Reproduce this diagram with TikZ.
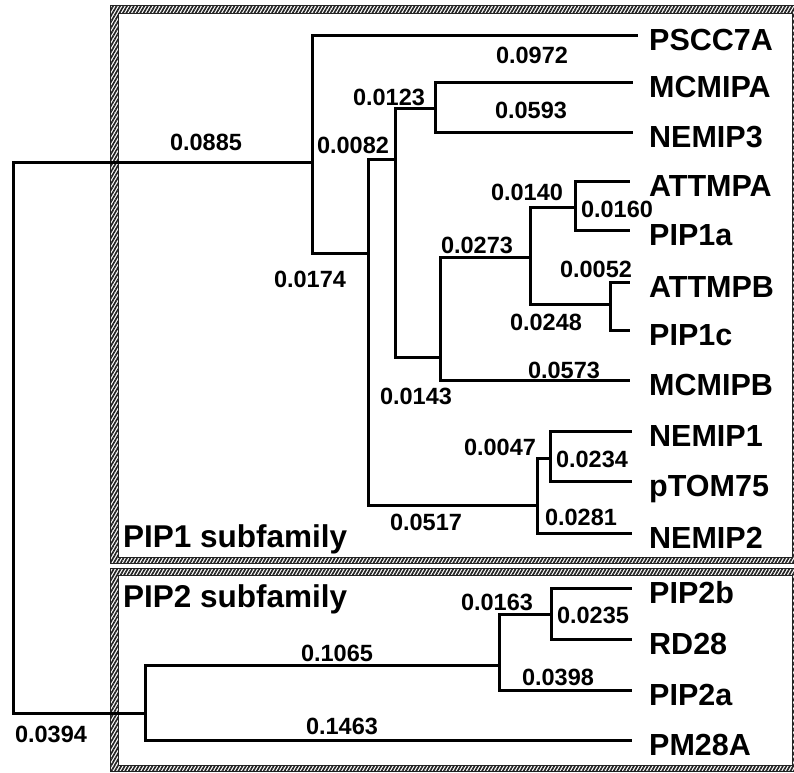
\documentclass[tikz,border=0pt]{standalone}
\usepackage{fontspec}
\setmainfont{Liberation Sans}
\usetikzlibrary{patterns.meta}
\definecolor{hatchgray}{RGB}{35,35,35}

\begin{document}
\begin{tikzpicture}[x=1pt, y=-1pt,
    branch/.style={line width=3pt},
    len/.style={font=\fontsize{23.5}{24}\selectfont\bfseries, anchor=base, inner sep=0pt},
    leaf/.style={font=\fontsize{30.5}{31}\selectfont\bfseries, anchor=base west, inner sep=0pt},
    family/.style={font=\fontsize{31.5}{32}\selectfont\bfseries, anchor=base west, inner sep=0pt},
    frame/.style={pattern={Lines[angle=60, distance=3pt, line width=1.7pt]}, pattern color=hatchgray, even odd rule}]
  \useasboundingbox (0,0) rectangle (794,772);

  % Subfamily frames (hatched)
  \fill[frame] (110,5) rectangle (794,563) (118,13) rectangle (792,557);
  \fill[frame] (110,568) rectangle (794,771) (118,575) rectangle (792,765);
  \draw[thin, hatchgray] (110,5) rectangle (794,563) (118,13) rectangle (792,557);
  \draw[thin, hatchgray] (110,568) rectangle (794,771) (118,575) rectangle (792,765);

  % Internal nodes (where the parent branch meets)
  \coordinate (root) at (13,437);
  \coordinate (nP1) at (312,162);
  \coordinate (nA) at (368,253);
  \coordinate (nB) at (395,159);
  \coordinate (nC) at (435,108);
  \coordinate (nD) at (440,357);
  \coordinate (nE) at (530,257);
  \coordinate (nF) at (575,207);
  \coordinate (nG) at (610,304);
  \coordinate (nH) at (537,505);
  \coordinate (nI) at (550,458);
  \coordinate (nP2) at (145,713);
  \coordinate (nK) at (499,665);
  \coordinate (nL) at (551,614);

  % Leaves: branch end and name
  \foreach \name/\xe/\y in {PSCC7A/638/35, MCMIPA/633/82, NEMIP3/633/132,
      ATTMPA/630/181, PIP1a/630/230, ATTMPB/630/282, PIP1c/630/330,
      MCMIPB/630/380, NEMIP1/632/431, pTOM75/632/481, NEMIP2/632/533,
      PIP2b/632/588, RD28/632/639, PIP2a/632/690, PM28A/632/740}{
    \coordinate (e\name) at (\xe,\y);
    \node[leaf] (\name) at (649,\y+15) {\name};
  }

  % Branches
  \foreach \p/\c in {root/nP1, root/nP2, nP1/ePSCC7A, nP1/nA, nA/nB, nA/nH,
      nB/nC, nB/nD, nC/eMCMIPA, nC/eNEMIP3, nD/nE, nD/eMCMIPB,
      nE/nF, nE/nG, nF/eATTMPA, nF/ePIP1a, nG/eATTMPB, nG/ePIP1c,
      nH/nI, nH/eNEMIP2, nI/eNEMIP1, nI/epTOM75,
      nP2/nK, nP2/ePM28A, nK/nL, nK/ePIP2a, nL/ePIP2b, nL/eRD28}
    \draw[branch] (\p) |- (\c);

  % Branch lengths
  \node[len] (b0885) at (206,150) {0.0885};
  \node[len] (b0972) at (532,63) {0.0972};
  \node[len] (b0123) at (389,105) {0.0123};
  \node[len] (b0082) at (353,153) {0.0082};
  \node[len] (b0593) at (531,118) {0.0593};
  \node[len] (b0174) at (310,287) {0.0174};
  \node[len] (b0140) at (527,200) {0.0140};
  \node[len] (b0160) at (617,217) {0.0160};
  \node[len] (b0273) at (477,253) {0.0273};
  \node[len] (b0052) at (596,277) {0.0052};
  \node[len] (b0248) at (546,330) {0.0248};
  \node[len] (b0573) at (564,378) {0.0573};
  \node[len] (b0143) at (416,404) {0.0143};
  \node[len] (b0047) at (500,455) {0.0047};
  \node[len] (b0234) at (592,467) {0.0234};
  \node[len] (b0517) at (426,530) {0.0517};
  \node[len] (b0281) at (581,525) {0.0281};
  \node[len] (b0163) at (497,610) {0.0163};
  \node[len] (b0235) at (593,623) {0.0235};
  \node[len] (b1065) at (337,661) {0.1065};
  \node[len] (b0398) at (558,685) {0.0398};
  \node[len] (b1463) at (342,734) {0.1463};
  \node[len] (b0394) at (51,742) {0.0394};

  % Subfamily names
  \node[family] (pip1) at (123,547) {PIP1 subfamily};
  \node[family] (pip2) at (123,607) {PIP2 subfamily};
\end{tikzpicture}
\end{document}
